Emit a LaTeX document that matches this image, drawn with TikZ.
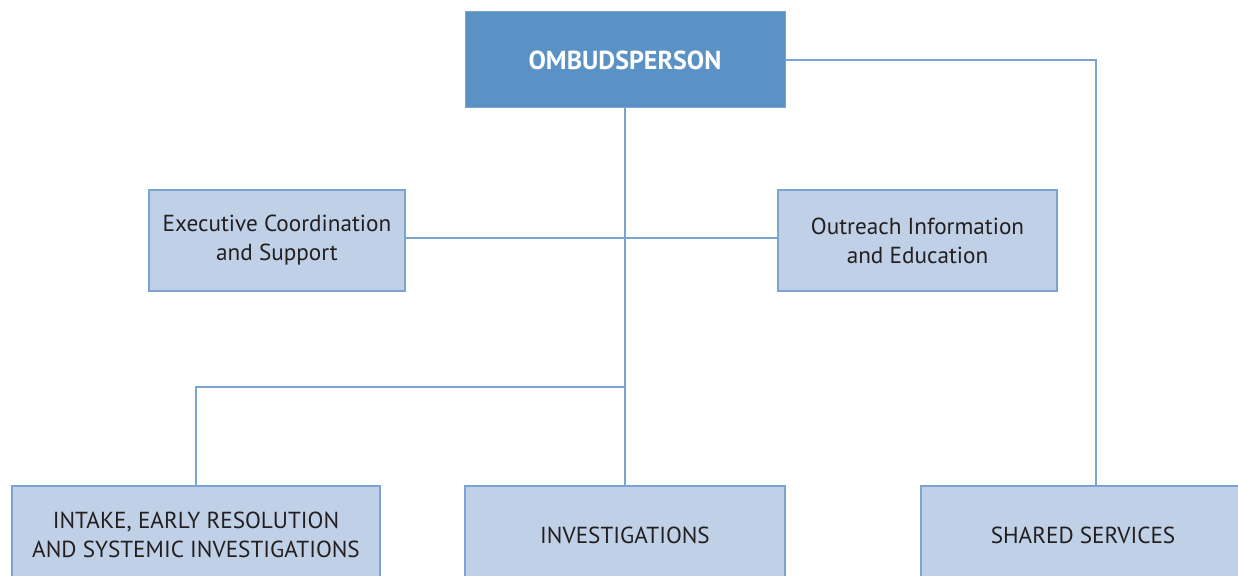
\documentclass[tikz,border=0pt]{standalone}
\usepackage{fontspec}
\setmainfont{PT Sans}
\usepackage{tikz}
\usetikzlibrary{positioning, calc}

\definecolor{HeadBlue}{HTML}{5B92C5}
\definecolor{UnitBlue}{HTML}{C0D1E7}
\definecolor{EdgeBlue}{HTML}{7AA5D2}
\definecolor{InkGray}{HTML}{231F20}

\begin{document}
\begin{tikzpicture}[
    x=1pt, y=-1pt,
    head/.style={rectangle, draw=EdgeBlue, line width=1pt, fill=HeadBlue, minimum width=320pt, minimum height=96pt, font=\fontsize{26}{31}\selectfont\bfseries, text=white},
    unit/.style={rectangle, draw=EdgeBlue, line width=1.2pt, fill=UnitBlue, minimum height=101pt, align=center, font=\fontsize{23.2}{29}\selectfont, text=InkGray},
    link/.style={line width=1.1pt, color=EdgeBlue}
    ]
    \useasboundingbox (0,0) rectangle (1238,575);
    \clip (0,0) rectangle (1238,575);

    % Nodes
    \node[head] (ombud) at (625,60) {\raisebox{-3pt}{OMBUDSPERSON}};
    \node[unit, minimum width=256pt] (exec) at (277,240.5) {Executive Coordination\\and Support};
    \node[unit, minimum width=279pt] (outreach) at (917.5,240.5) {Outreach Information\\and Education};
    \node[unit, minimum width=368pt, minimum height=98pt] (intake) at (196,535) {INTAKE, EARLY RESOLUTION\\AND SYSTEMIC INVESTIGATIONS};
    \node[unit, minimum width=320pt, minimum height=98pt] (invest) at (625,535) {INVESTIGATIONS};
    \node[unit, minimum width=324pt, minimum height=98pt] (shared) at (1083,535) {SHARED SERVICES};
    \coordinate (split) at (625,387);

    % Edges
    \draw[link] (ombud.south) -- (invest.north);
    \draw[link] ([yshift=2.5pt]exec.east) -- ([yshift=2.5pt]outreach.west);
    \draw[link] (split) -| (intake.north);
    \draw[link] (ombud.east) -| ([xshift=13pt]shared.north);
\end{tikzpicture}
\end{document}
